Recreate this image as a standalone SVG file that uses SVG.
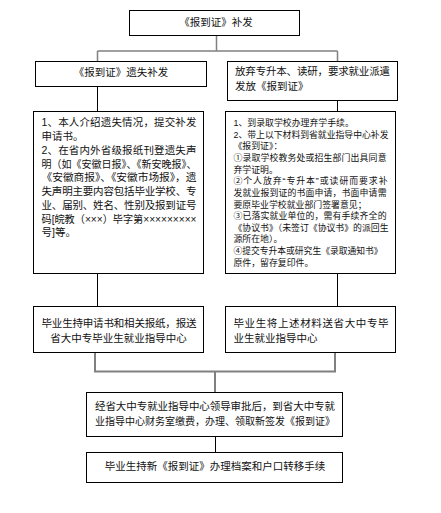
<svg xmlns="http://www.w3.org/2000/svg" width="441" height="513" viewBox="0 0 441 513">
<style>
.box{fill:#fff;stroke:#000;stroke-width:1}
.t{font-family:"Liberation Sans","Noto Sans CJK SC",sans-serif;font-size:10.5px;fill:#111}
.s{font-family:"Liberation Sans","Noto Sans CJK SC",sans-serif;font-size:8.9px;fill:#111}
.c{text-anchor:middle}
.g{fill:none;stroke:#808080;stroke-width:2}
.k{fill:none;stroke:#000;stroke-width:1}
</style>
<rect width="441" height="513" fill="#fff"/>
<g id="connectors">
<path class="g" d="M216.5 35.5V51M97.5 51H337.5M97.5 51V61.5M337.5 51V61.5" style="stroke-width:1.5"/>
<path class="k" d="M97.5 86.5V111.5M337.5 100.5V111.5M97.5 273.5V306.5M337.5 273.5V306.5"/>
<path class="g" d="M95 352.5V371.5H335V352.5M215 371.5V392.5"/>
<path class="k" d="M215.5 436.5V452.5"/>
</g>
<g id="n1">
<rect class="box" x="129.5" y="10.5" width="170" height="25"/>
<text class="t c" x="216" y="26.3">《报到证》补发</text>
</g>
<g id="n2">
<rect class="box" x="35.5" y="61.5" width="171" height="25"/>
<text class="t c" x="121" y="76.3">《报到证》遗失补发</text>
</g>
<g id="n3">
<rect class="box" x="227.5" y="61.5" width="170" height="39"/>
<text class="t" x="235" y="75" textLength="155" lengthAdjust="spacing">放弃专升本、读研，要求就业派遣</text>
<text class="t" x="235" y="90.4">发放《报到证》</text>
</g>
<g id="n4">
<rect class="box" x="33.5" y="111.5" width="170" height="162"/>
<text class="t" x="41.5" y="126.4" textLength="155" lengthAdjust="spacing">1、本人介绍遗失情况，提交补发</text>
<text class="t" x="41.5" y="140.2">申请书。</text>
<text class="t" x="41.5" y="153.9" textLength="155" lengthAdjust="spacing">2、在省内外省级报纸刊登遗失声</text>
<text class="t" x="41.5" y="167.7" textLength="155" lengthAdjust="spacingAndGlyphs">明（如《安徽日报》、《新安晚报》、</text>
<text class="t" x="41.5" y="181.4" textLength="155" lengthAdjust="spacingAndGlyphs">《安徽商报》、《安徽市场报》，遗</text>
<text class="t" x="41.5" y="195.1" textLength="155" lengthAdjust="spacing">失声明主要内容包括毕业学校、专</text>
<text class="t" x="41.5" y="208.9" textLength="155" lengthAdjust="spacing">业、届别、姓名、性别及报到证号</text>
<text class="t" x="41.5" y="222.6" textLength="155" lengthAdjust="spacingAndGlyphs">码[皖教（×××）毕字第×××××××××</text>
<text class="t" x="41.5" y="236.4">号]等。</text>
</g>
<g id="n5">
<rect class="box" x="225.5" y="111.5" width="170" height="162"/>
<text class="s" x="233.5" y="125.9">1、到录取学校办理弃学手续。</text>
<text class="s" x="233.5" y="137.5" textLength="155" lengthAdjust="spacingAndGlyphs">2、带上以下材料到省就业指导中心补发</text>
<text class="s" x="233.5" y="149.2">《报到证》：</text>
<text class="s" x="233.5" y="160.8" textLength="153" lengthAdjust="spacing">①录取学校教务处或招生部门出具同意</text>
<text class="s" x="233.5" y="172.5">弃学证明。</text>
<text class="s" x="233.5" y="184.2" textLength="154" lengthAdjust="spacing">②个人放弃“专升本”或读研而要求补</text>
<text class="s" x="233.5" y="195.8" textLength="153" lengthAdjust="spacing">发就业报到证的书面申请，书面申请需</text>
<text class="s" x="233.5" y="207.5">要原毕业学校就业部门签署意见；</text>
<text class="s" x="233.5" y="219.1" textLength="153" lengthAdjust="spacing">③已落实就业单位的，需有手续齐全的</text>
<text class="s" x="233.5" y="230.8" textLength="155" lengthAdjust="spacingAndGlyphs">《协议书》（未签订《协议书》的派回生</text>
<text class="s" x="233.5" y="242.4">源所在地）。</text>
<text class="s" x="233.5" y="254.1" textLength="149" lengthAdjust="spacingAndGlyphs">④提交专升本或研究生《录取通知书》</text>
<text class="s" x="233.5" y="265.7">原件，留存复印件。</text>
</g>
<g id="n6">
<rect class="box" x="33.5" y="306.5" width="170" height="46"/>
<text class="t" x="41.5" y="327" textLength="155" lengthAdjust="spacing">毕业生持申请书和相关报纸，报送</text>
<text class="t c" x="118.5" y="342">省大中专毕业生就业指导中心</text>
</g>
<g id="n7">
<rect class="box" x="225.5" y="306.5" width="170" height="46"/>
<text class="t" x="233.5" y="327" textLength="155" lengthAdjust="spacing">毕业生将上述材料送省大中专毕</text>
<text class="t" x="233.5" y="342">业生就业指导中心</text>
</g>
<g id="n8">
<rect class="box" x="86.5" y="392.5" width="256" height="44"/>
<text class="t" x="95" y="410.4" textLength="240" lengthAdjust="spacing">经省大中专就业指导中心领导审批后，到省大中专就</text>
<text class="t" x="95" y="425.4" textLength="240" lengthAdjust="spacingAndGlyphs">业指导中心财务室缴费，办理、领取新签发《报到证》</text>
</g>
<g id="n9">
<rect class="box" x="86.5" y="452.5" width="256" height="30"/>
<text class="t c" x="215" y="470.4">毕业生持新《报到证》办理档案和户口转移手续</text>
</g>
</svg>
